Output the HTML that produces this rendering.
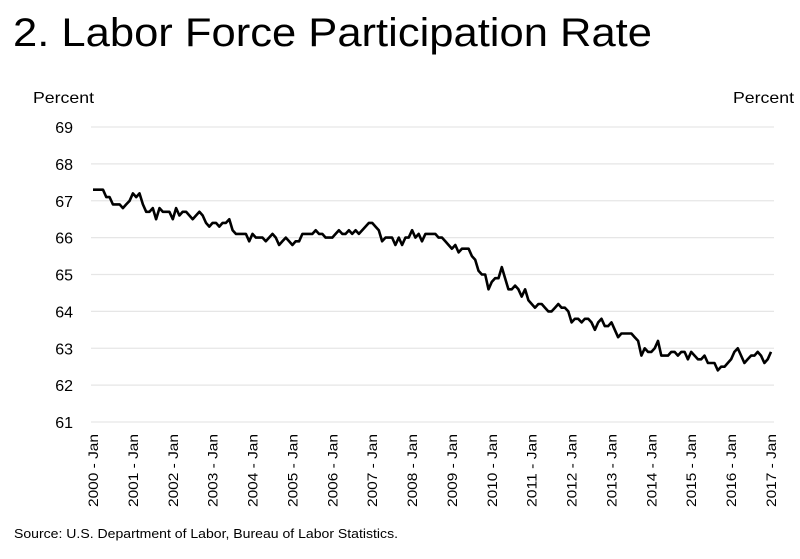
<!DOCTYPE html>
<html><head><meta charset="utf-8"><style>
body{margin:0;background:#fff;}
svg{display:block;font-family:"Liberation Sans",sans-serif;}
</style></head><body>
<svg id="chart" width="800" height="559" viewBox="0 0 800 559" xmlns="http://www.w3.org/2000/svg">
<text x="13" y="46" font-size="40" textLength="639" lengthAdjust="spacingAndGlyphs" fill="#000">2. Labor Force Participation Rate</text>
<text x="33" y="103" font-size="16" textLength="61" lengthAdjust="spacingAndGlyphs">Percent</text>
<text x="733" y="103" font-size="16" textLength="61" lengthAdjust="spacingAndGlyphs">Percent</text>
<g id="grid"></g>
<g id="ylabels"></g>
<g id="xlabels"></g>
<path id="line" fill="none" stroke="#000" stroke-width="2.6" stroke-linejoin="round"/>
<text x="14" y="538" font-size="13" textLength="384" lengthAdjust="spacingAndGlyphs">Source: U.S. Department of Labor, Bureau of Labor Statistics.</text>
</svg>
<script>
const yTicks=[61,62,63,64,65,66,67,68,69];
const xYears=[2000,2001,2002,2003,2004,2005,2006,2007,2008,2009,2010,2011,2012,2013,2014,2015,2016,2017];
const rate=[
67.3,67.3,67.3,67.3,67.1,67.1,66.9,66.9,66.9,66.8,66.9,67.0,
67.2,67.1,67.2,66.9,66.7,66.7,66.8,66.5,66.8,66.7,66.7,66.7,
66.5,66.8,66.6,66.7,66.7,66.6,66.5,66.6,66.7,66.6,66.4,66.3,
66.4,66.4,66.3,66.4,66.4,66.5,66.2,66.1,66.1,66.1,66.1,65.9,
66.1,66.0,66.0,66.0,65.9,66.0,66.1,66.0,65.8,65.9,66.0,65.9,
65.8,65.9,65.9,66.1,66.1,66.1,66.1,66.2,66.1,66.1,66.0,66.0,
66.0,66.1,66.2,66.1,66.1,66.2,66.1,66.2,66.1,66.2,66.3,66.4,
66.4,66.3,66.2,65.9,66.0,66.0,66.0,65.8,66.0,65.8,66.0,66.0,
66.2,66.0,66.1,65.9,66.1,66.1,66.1,66.1,66.0,66.0,65.9,65.8,
65.7,65.8,65.6,65.7,65.7,65.7,65.5,65.4,65.1,65.0,65.0,64.6,
64.8,64.9,64.9,65.2,64.9,64.6,64.6,64.7,64.6,64.4,64.6,64.3,
64.2,64.1,64.2,64.2,64.1,64.0,64.0,64.1,64.2,64.1,64.1,64.0,
63.7,63.8,63.8,63.7,63.8,63.8,63.7,63.5,63.7,63.8,63.6,63.6,
63.7,63.5,63.3,63.4,63.4,63.4,63.4,63.3,63.2,62.8,63.0,62.9,
62.9,63.0,63.2,62.8,62.8,62.8,62.9,62.9,62.8,62.9,62.9,62.7,
62.9,62.8,62.7,62.7,62.8,62.6,62.6,62.6,62.4,62.5,62.5,62.6,
62.7,62.9,63.0,62.8,62.6,62.7,62.8,62.8,62.9,62.8,62.6,62.7,
62.9];
const X0=93,X1=771,Y61=422,Y69=127;
const xs=i=>X0+(X1-X0)*i/204;
const ys=v=>Y61+(Y69-Y61)*(v-61)/8;
const NS="http://www.w3.org/2000/svg";
const grid=document.getElementById('grid'),yl=document.getElementById('ylabels'),xl=document.getElementById('xlabels');
yTicks.forEach(t=>{
  const l=document.createElementNS(NS,'line');
  
  
  l.setAttribute('x1',91);l.setAttribute('x2',774);l.setAttribute('y1',ys(t));l.setAttribute('y2',ys(t));
  l.setAttribute('stroke','#e6e6e6');l.setAttribute('stroke-width','1.2');
  grid.appendChild(l);
  const tx=document.createElementNS(NS,'text');
  
  
  tx.setAttribute('x',73);tx.setAttribute('y',ys(t)+6);tx.setAttribute('text-anchor','end');tx.setAttribute('font-size','16');
  tx.textContent=t;yl.appendChild(tx);
});
xYears.forEach((y,k)=>{
  const x=xs(k*12);
  const tx=document.createElementNS(NS,'text');
  
  
  tx.setAttribute('transform','translate('+(x+5)+',434) rotate(-90)');
  tx.setAttribute('text-anchor','end');tx.setAttribute('font-size','14');
  tx.setAttribute('textLength','73');tx.setAttribute('lengthAdjust','spacingAndGlyphs');
  tx.textContent=y+' - Jan';xl.appendChild(tx);
});
document.getElementById('line').setAttribute('d',rate.map((v,i)=>(i?'L':'M')+xs(i).toFixed(1)+' '+ys(v).toFixed(1)).join(''));
</script>
</body></html>
